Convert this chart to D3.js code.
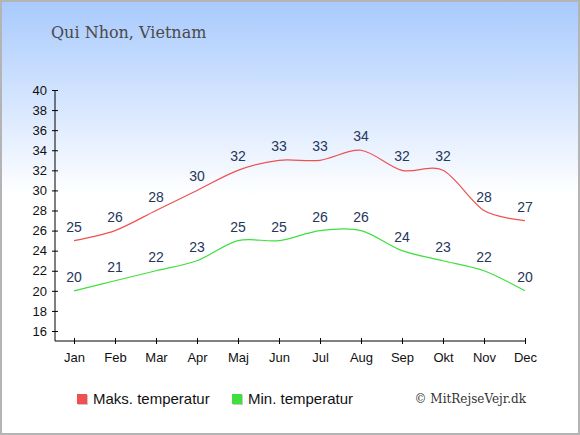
<!DOCTYPE html>
<html>
<head>
<meta charset="utf-8">
<script src="https://cdn.jsdelivr.net/npm/d3@7"></script>
<style>
  html, body { margin: 0; padding: 0; background: #fff; }
  #chart { width: 580px; height: 435px; }
  .axis text { font-family: "Liberation Sans", Arial, sans-serif; font-size: 13px; fill: #111; }
  .axis line, .axis path { stroke: #000; }
  .value { font-family: "Liberation Sans", Arial, sans-serif; font-size: 14px; fill: #26365a; text-anchor: middle; }
</style>
</head>
<body>
<div id="chart"></div>
<script>
const MONTHS = ['Jan', 'Feb', 'Mar', 'Apr', 'Maj', 'Jun', 'Jul', 'Aug', 'Sep', 'Okt', 'Nov', 'Dec']
const MAX_TEMP = [25, 26, 28, 30, 32, 33, 33, 34, 32, 32, 28, 27]
const MIN_TEMP = [20, 21, 22, 23, 25, 25, 26, 26, 24, 23, 22, 20]
const Y_TICKS = [16, 18, 20, 22, 24, 26, 28, 30, 32, 34, 36, 38, 40]

const RED = '#f05050'
const GREEN = '#3ee03e'

const width = 580
const height = 435

const svg = d3.select('#chart')
  .append('svg')
  .attr('width', width)
  .attr('height', height)

const defs = svg.append('defs')
const grad = defs.append('linearGradient')
  .attr('id', 'bg')
  .attr('x1', 0).attr('y1', 0).attr('x2', 0).attr('y2', 1)
grad.append('stop').attr('offset', '0%').attr('stop-color', '#a8cafd')
grad.append('stop').attr('offset', '45%').attr('stop-color', '#ffffff')
grad.append('stop').attr('offset', '100%').attr('stop-color', '#ffffff')

svg.append('rect')
  .attr('x', 1).attr('y', 1)
  .attr('width', width - 2).attr('height', height - 2)
  .attr('fill', 'url(#bg)')
  .attr('stroke', '#b4b4b4')
  .attr('stroke-width', 2)

svg.append('text')
  .attr('x', 51)
  .attr('y', 38)
  .attr('font-family', '"DejaVu Serif", serif')
  .attr('font-size', 16)
  .attr('fill', '#4a4a4a')
  .text('Qui Nhon, Vietnam')

const x = d3.scalePoint().domain(MONTHS).range([74, 525])
const y = d3.scaleLinear().domain([16, 40]).range([331, 90])

svg.append('g')
  .attr('class', 'axis')
  .attr('transform', 'translate(55,0)')
  .call(d3.axisLeft(y).tickValues(Y_TICKS).tickSize(4).tickSizeOuter(0))
  .call((g) => g.select('.domain').attr('d', `M0,${y(40)}V${y(16) + 10}`))
  .call((g) => g.selectAll('.tick line').attr('x2', 3).attr('x1', -3))
  .call((g) => g.selectAll('.tick text').attr('x', -8))

svg.append('g')
  .attr('class', 'axis')
  .attr('transform', 'translate(0,341)')
  .call(d3.axisBottom(x).tickSize(4).tickSizeOuter(0))
  .call((g) => g.select('.domain').attr('d', `M55,0H${x('Dec')}`))
  .call((g) => g.selectAll('.tick line').attr('y1', -3).attr('y2', 3))
  .call((g) => g.selectAll('.tick text').attr('dy', '1.05em'))

const line = d3.line()
  .x((d, i) => x(MONTHS[i]))
  .y((d) => y(d))
  .curve(d3.curveCardinal.tension(0.1))

function drawSeries(values, color) {
  svg.append('path')
    .datum(values)
    .attr('d', line)
    .attr('fill', 'none')
    .attr('stroke', color)
    .attr('stroke-width', 1.2)

  svg.append('g')
    .selectAll('text')
    .data(values)
    .join('text')
    .attr('class', 'value')
    .attr('x', (d, i) => x(MONTHS[i]))
    .attr('y', (d) => y(d) - 9)
    .text((d) => d)
}

drawSeries(MAX_TEMP, RED)
drawSeries(MIN_TEMP, GREEN)

const legend = [
  { label: 'Maks. temperatur', color: RED, x: 77 },
  { label: 'Min. temperatur', color: GREEN, x: 232 },
]
legend.forEach((item) => {
  svg.append('rect')
    .attr('x', item.x + 1).attr('y', 395)
    .attr('width', 10).attr('height', 10)
    .attr('fill', '#c8c8c8')
  svg.append('rect')
    .attr('x', item.x).attr('y', 394)
    .attr('width', 10).attr('height', 10)
    .attr('fill', item.color)
  svg.append('text')
    .attr('x', item.x + 16)
    .attr('y', 404)
    .attr('font-family', '"Liberation Sans", Arial, sans-serif')
    .attr('font-size', 15)
    .attr('fill', '#111')
    .text(item.label)
})

svg.append('text')
  .attr('x', 526)
  .attr('y', 403)
  .attr('text-anchor', 'end')
  .attr('font-family', '"DejaVu Serif", serif')
  .attr('font-size', 12)
  .attr('fill', '#333')
  .text('© MitRejseVejr.dk')
</script>
</body>
</html>
